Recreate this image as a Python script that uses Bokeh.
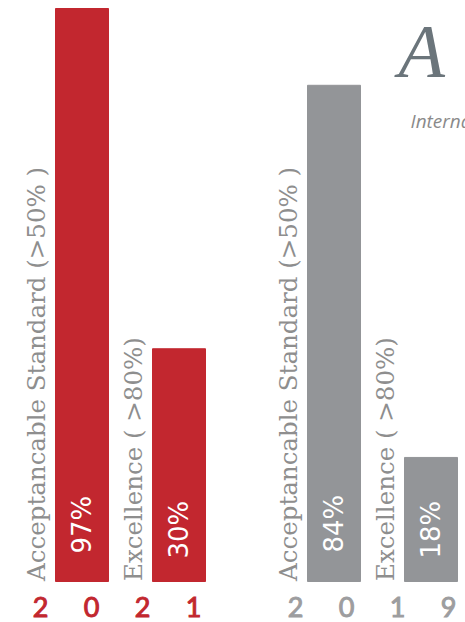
import math
from bokeh.plotting import figure
from bokeh.models import Range1d
from bokeh.core.properties import value
from bokeh.embed import file_html
from bokeh.resources import INLINE

# ---- data ----
years = ["2021", "2019"]
categories = ["Acceptancable Standard (>50% )", "Excellence ( >80%)"]
pct_labels = ["97%", "30%", "84%", "18%"]
bar_heights = [97, 39.4, 84, 21]          # drawn height of each bar (in % units)
year_digits = [list("2021"), list("2019")]
logo_text = "A"
subtitle_text = "International"

# ---- layout / style ----
W, H = 465, 622
BASE = 581            # pixel row of the bar baseline
PX = (BASE - 8) / 97  # pixels per unit
RED = "#c2272f"
GRAY = "#939598"

p = figure(width=W, height=H, x_range=Range1d(0, W),
           y_range=Range1d(-(H - BASE) / PX, BASE / PX),
           output_backend="svg", toolbar_location=None, min_border=0)
p.axis.visible = False
p.grid.visible = False
p.outline_line_color = None
p.background_fill_color = "white"
p.border_fill_color = "white"

bar_x = [81.5, 178.5, 333.5, 430.5]
bar_col = [RED, RED, GRAY, GRAY]
p.vbar(x=bar_x, top=bar_heights, bottom=0, width=53, color=bar_col)

# rotated category labels
cat_text = categories * len(years)
p.text(x=[x - 45.5 for x in bar_x], y=[0.1] * 4, text=cat_text,
       angle=math.pi / 2, text_align="left", text_baseline="middle",
       text_font=value("DejaVu Serif"), text_font_size="24.5px",
       text_color="#8e8e8e")

# percent labels inside the bars
pct_y = [(BASE - 553) / PX, (BASE - 558) / PX, (BASE - 552) / PX, (BASE - 558) / PX]
p.text(x=bar_x, y=pct_y, text=pct_labels, angle=math.pi / 2,
       text_align="left", text_baseline="middle",
       text_font=value("DejaVu Sans"), text_font_style="normal",
       text_font_size="26px", text_color="white")

# spaced-out year digits
dig_x, dig_t, dig_c = [], [], []
for g, (digits, col) in enumerate(zip(year_digits, [RED, "#9d9d9f"])):
    for i, d in enumerate(digits):
        dig_x.append(40 + g * 255 + i * 51)
        dig_t.append(d)
        dig_c.append(col)
p.text(x=dig_x, y=[(BASE - 606) / PX] * len(dig_x), text=dig_t,
       text_align="center", text_baseline="middle",
       text_font=value("Lato"), text_font_size="27px", text_color=dig_c,
       text_outline_color=dig_c)

# logo fragment at top right
p.text(x=[398], y=[(BASE - 8) / PX], text=[logo_text], text_align="left",
       text_baseline="top", text_font=value("Liberation Serif"),
       text_font_style="italic", text_font_size="76px", text_color="#6b757b")
p.text(x=[410], y=[(BASE - 120) / PX], text=[subtitle_text], text_align="left",
       text_baseline="alphabetic", text_font=value("Open Sans"),
       text_font_style="italic", text_font_size="19px", text_color="#8a8a8a")

open("out.html", "w").write(file_html(p, INLINE))
